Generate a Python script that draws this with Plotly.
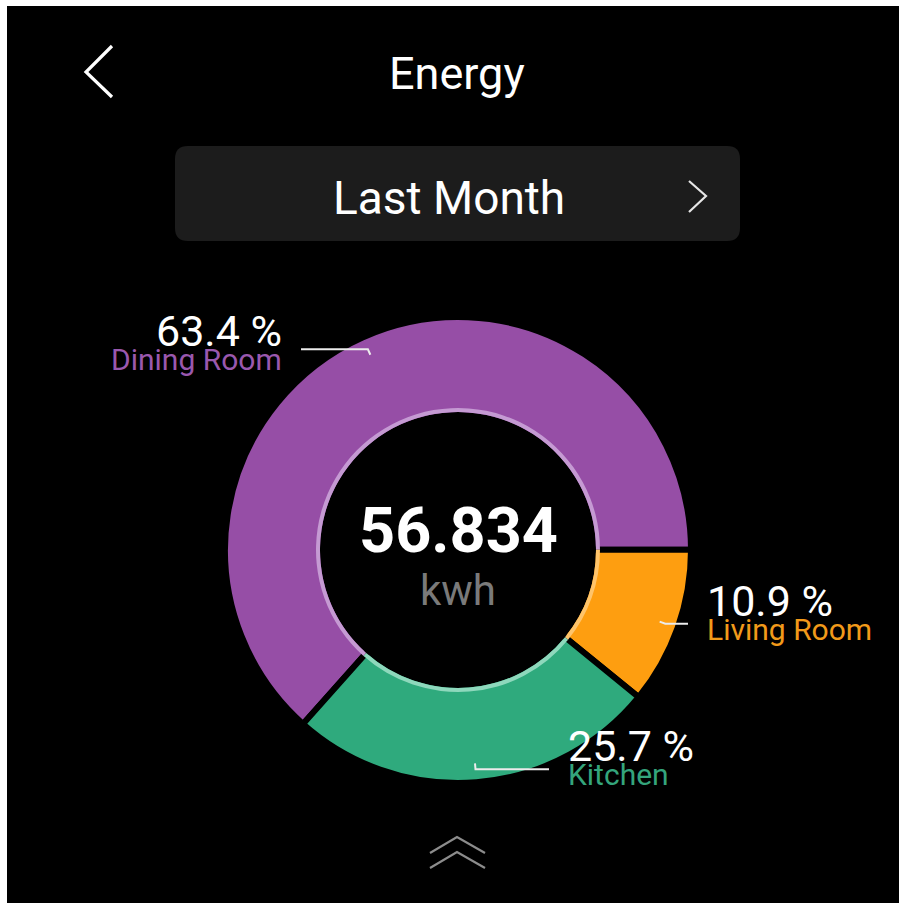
import math
import plotly.graph_objects as go

# ---- data -------------------------------------------------------------
rooms = ["Dining Room", "Living Room", "Kitchen"]
shares = [63.4, 10.9, 25.7]
total_kwh = "56.834"
unit = "kwh"
period = "Last Month"
title = "Energy"

slice_colors = ["#964EA6", "#FE9E10", "#2FAA7D"]
ring_colors = ["#C59AD3", "#FFC46A", "#8ED8BC"]
name_colors = ["#9A58AE", "#F29A1A", "#34A57C"]

# ---- canvas helpers (pixel -> paper) ----------------------------------
W, H = 899, 903


def fx(x):
    return x / W


def fy(y):
    return 1 - y / H


def domain(cx, cy, r):
    return dict(x=[fx(cx - r), fx(cx + r)], y=[fy(cy + r), fy(cy - r)])


CX, CY = 458, 550          # donut centre
R_OUT, R_IN = 230, 138     # visible outer / inner radius
GAP = 6                    # black gap between slices
START = 221.7              # clockwise angle (from 12 o'clock) of first slice

fig = go.Figure()

# main donut
r_geo = R_OUT + GAP / 2
hole_r = R_IN - GAP / 2
fig.add_trace(go.Pie(
    labels=rooms, values=shares, sort=False, direction="clockwise",
    rotation=START, hole=hole_r / r_geo,
    marker=dict(colors=slice_colors, line=dict(color="#000000", width=GAP)),
    textinfo="none", hoverinfo="skip", showlegend=False,
    domain=domain(CX, CY, r_geo),
))

# thin light ring along the inner edge
ring_w = 4
r2 = R_IN + ring_w
fig.add_trace(go.Pie(
    labels=rooms, values=shares, sort=False, direction="clockwise",
    rotation=START, hole=R_IN / r2,
    marker=dict(colors=ring_colors, line=dict(width=0)),
    textinfo="none", hoverinfo="skip", showlegend=False,
    domain=domain(CX, CY, r2),
))

shapes = []
annotations = []

# white strips on the top and left edge
shapes.append(dict(type="rect", xref="paper", yref="paper", x0=0, x1=fx(7), y0=0, y1=1,
                   fillcolor="#ffffff", line=dict(width=0), layer="below"))
shapes.append(dict(type="rect", xref="paper", yref="paper", x0=0, x1=1, y0=fy(6), y1=1,
                   fillcolor="#ffffff", line=dict(width=0), layer="below"))


def path(points):
    return "M " + " L ".join(f"{fx(x):.5f},{fy(y):.5f}" for x, y in points)


# back chevron
shapes.append(dict(type="path", xref="paper", yref="paper",
                   path=path([(112, 46), (86, 72), (112, 97)]),
                   line=dict(color="#ffffff", width=3.2)))

# period selector button (rounded rectangle)
bx0, bx1, by0, by1, rr = 175, 740, 146, 241, 13
btn = (f"M {fx(bx0 + rr)},{fy(by0)} L {fx(bx1 - rr)},{fy(by0)} "
       f"Q {fx(bx1)},{fy(by0)} {fx(bx1)},{fy(by0 + rr)} "
       f"L {fx(bx1)},{fy(by1 - rr)} Q {fx(bx1)},{fy(by1)} {fx(bx1 - rr)},{fy(by1)} "
       f"L {fx(bx0 + rr)},{fy(by1)} Q {fx(bx0)},{fy(by1)} {fx(bx0)},{fy(by1 - rr)} "
       f"L {fx(bx0)},{fy(by0 + rr)} Q {fx(bx0)},{fy(by0)} {fx(bx0 + rr)},{fy(by0)} Z")
shapes.append(dict(type="path", xref="paper", yref="paper", path=btn,
                   fillcolor="#1c1c1c", line=dict(width=0), layer="below"))
shapes.append(dict(type="path", xref="paper", yref="paper",
                   path=path([(689, 181), (706, 196), (689, 212)]),
                   line=dict(color="#e6e6e6", width=2.2)))

# expand chevrons at the bottom
for dy in (0, 15):
    shapes.append(dict(type="path", xref="paper", yref="paper",
                       path=path([(430, 853 + dy), (457, 837 + dy), (485, 853 + dy)]),
                       line=dict(color="#8c8c8c", width=2.2)))

# leader lines + percentage labels, anchored on each slice's mid angle
label_side = {"Dining Room": (284, "right"), "Living Room": (705, "left"), "Kitchen": (566, "left")}
pct_y = {"Dining Room": 331, "Living Room": 601, "Kitchen": 746}
total = sum(shares)
acc = 0.0
for name, val, ncol in zip(rooms, shares, name_colors):
    mid = START + (acc + val / 2) / total * 360
    acc += val
    a = math.radians(mid)
    ux, uy = math.sin(a), -math.cos(a)
    ax, ay = CX + 214 * ux, CY + 214 * uy
    bx, by = ax + 6 * ux, ay + 6 * uy
    lx, side = label_side[name]
    ex = lx + 17 if side == "right" else lx - 17
    shapes.append(dict(type="path", xref="paper", yref="paper",
                       path=path([(ax, ay), (bx, by), (ex, by)]),
                       line=dict(color="#ececec", width=2)))
    py = pct_y[name]
    annotations.append(dict(x=fx(lx), y=fy(py), xref="paper", yref="paper",
                            text=f"{val:.1f} %", showarrow=False, xanchor=side, yanchor="middle",
                            font=dict(family="Roboto", size=43, color="#ffffff")))
    annotations.append(dict(x=fx(lx), y=fy(py + 28), xref="paper", yref="paper",
                            text=name, showarrow=False, xanchor=side, yanchor="middle",
                            font=dict(family="Roboto", size=30, color=ncol)))

# titles and centre readout
annotations += [
    dict(x=fx(457), y=fy(73), xref="paper", yref="paper", text=title, showarrow=False,
         xanchor="center", yanchor="middle", font=dict(family="Roboto", size=45, color="#ffffff")),
    dict(x=fx(449), y=fy(198), xref="paper", yref="paper", text=period, showarrow=False,
         xanchor="center", yanchor="middle", font=dict(family="Roboto", size=46, color="#ffffff")),
    dict(x=fx(459), y=fy(530), xref="paper", yref="paper", text=f"<b>{total_kwh}</b>", showarrow=False,
         xanchor="center", yanchor="middle", font=dict(family="Roboto", size=63, color="#ffffff")),
    dict(x=fx(458), y=fy(590), xref="paper", yref="paper", text=unit, showarrow=False,
         xanchor="center", yanchor="middle", font=dict(family="Roboto", size=42, color="#7a7a7a")),
]

fig.update_layout(
    width=W, height=H, margin=dict(l=0, r=0, t=0, b=0),
    paper_bgcolor="#000000", plot_bgcolor="#000000",
    shapes=shapes, annotations=annotations, showlegend=False,
)

fig.write_html("out.html",
               post_script="document.body.style.margin='0';document.body.style.overflow='hidden';")
